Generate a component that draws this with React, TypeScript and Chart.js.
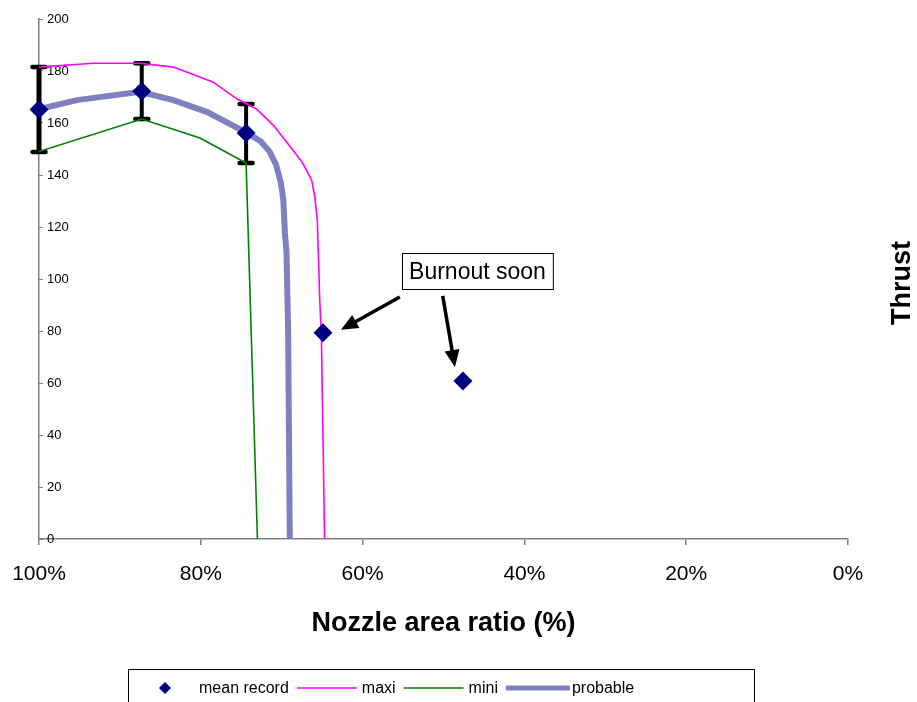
import React, { useEffect, useRef } from "react";
import { Chart, registerables } from "chart.js";

Chart.register(...registerables);

const FONT = '"Liberation Sans", Arial, Helvetica, sans-serif';

// ---- data ----
const seriesNames = ["mean record", "maxi", "mini", "probable"];

const meanX = [100, 87.3, 74.4, 64.9, 47.6];
const meanY = [165.2, 172.2, 156.2, 79.3, 60.8];
const errHigh = [181.5, 183, 167.3, null, null];
const errLow = [148.8, 161.5, 144.6, null, null];

const maxiX = [100, 93.3, 87.5, 83.4, 78.5, 75.5, 73.1, 71.0, 69.3, 67.4, 66.3, 65.9, 65.6, 65.3, 65.1, 64.9, 64.7];
const maxiY = [181.5, 183, 183, 181.5, 175.8, 169.2, 165.4, 159, 152.3, 144.6, 138, 131.5, 122.7, 92, 79, 40, 0];

const miniX = [100, 87.3, 80.1, 74.4, 73.0];
const miniY = [149, 161.5, 154.2, 144.6, 0];

const probX = [100, 95.3, 87.5, 83.4, 79.2, 74.3, 72.6, 71.5, 70.7, 70.1, 69.8, 69.6, 69.4, 69.2, 69.0];
const probY = [165.4, 168.8, 172, 168.8, 164.2, 156.2, 153, 149, 144, 137, 130.4, 117.7, 110, 79, 0];

const xTickStep = 20;
const yTickStep = 20;
const xTitle = "Nozzle area ratio (%)";
const yTitle = "Thrust";

const noteText = "Burnout soon";
const noteAt = [45.8, 103]; // box centre (x %, thrust)
const arrowFrom = [
  [55.4, 93.1],
  [50.1, 93.5],
];
const arrowTarget = [3, 4]; // indices of mean record points

const COLORS = {
  mean: "#000080",
  maxi: "#FF00FF",
  mini: "#008000",
  prob: "#8080C0",
};

const toXY = (xs: number[], ys: number[]) => xs.map((x, i) => ({ x, y: ys[i] }));

function line(ctx: CanvasRenderingContext2D, x1: number, y1: number, x2: number, y2: number) {
  ctx.beginPath();
  ctx.moveTo(x1, y1);
  ctx.lineTo(x2, y2);
  ctx.stroke();
}

const errorBarPlugin = {
  id: "errorBars",
  beforeDatasetsDraw(chart: any) {
    const { ctx, scales } = chart;
    const x = scales.x;
    const y = scales.y;
    ctx.save();
    ctx.strokeStyle = "#000";
    meanX.forEach((v, i) => {
      const hi = errHigh[i];
      const lo = errLow[i];
      if (hi == null || lo == null) return;
      const px = x.getPixelForValue(v);
      const pt = y.getPixelForValue(hi);
      const pb = y.getPixelForValue(lo);
      ctx.lineWidth = i === 0 ? 5 : 4;
      ctx.lineCap = "butt";
      line(ctx, px, pt, px, pb);
      ctx.lineWidth = 4.5;
      ctx.lineCap = "round";
      line(ctx, px - 6.5, pt, px + 6.5, pt);
      line(ctx, px - 6.5, pb, px + 6.5, pb);
    });
    ctx.restore();
  },
};

function arrow(ctx: CanvasRenderingContext2D, fx: number, fy: number, tx: number, ty: number) {
  const dx = tx - fx;
  const dy = ty - fy;
  const len = Math.hypot(dx, dy);
  const ux = dx / len;
  const uy = dy / len;
  const head = 17;
  const hw = 7.5;
  const bx = tx - ux * head;
  const by = ty - uy * head;
  ctx.lineWidth = 3.5;
  ctx.lineCap = "butt";
  line(ctx, fx, fy, bx + ux * 2, by + uy * 2);
  ctx.beginPath();
  ctx.moveTo(tx, ty);
  ctx.lineTo(bx - uy * hw, by + ux * hw);
  ctx.lineTo(bx + uy * hw, by - ux * hw);
  ctx.closePath();
  ctx.fill();
}

const annotationPlugin = {
  id: "annotation",
  afterDatasetsDraw(chart: any) {
    const { ctx, scales } = chart;
    const x = scales.x;
    const y = scales.y;
    ctx.save();
    ctx.font = `23px ${FONT}`;
    const cx = x.getPixelForValue(noteAt[0]);
    const cy = y.getPixelForValue(noteAt[1]);
    const w = ctx.measureText(noteText).width + 14;
    const h = 36;
    const left = Math.round(cx - w / 2) + 0.5;
    const top = Math.round(cy - h / 2) + 0.5;
    ctx.fillStyle = "#fff";
    ctx.fillRect(left, top, w, h);
    ctx.strokeStyle = "#000";
    ctx.lineWidth = 1;
    ctx.strokeRect(left, top, w, h);
    ctx.fillStyle = "#000";
    ctx.textAlign = "center";
    ctx.textBaseline = "middle";
    ctx.fillText(noteText, cx, cy + 1);

    const tipOffsets = [
      [18, -3],
      [-8, -14],
    ];
    arrowFrom.forEach((f, i) => {
      const idx = arrowTarget[i];
      const fx = x.getPixelForValue(f[0]);
      const fy = y.getPixelForValue(f[1]);
      const tx = x.getPixelForValue(meanX[idx]) + tipOffsets[i][0];
      const ty = y.getPixelForValue(meanY[idx]) + tipOffsets[i][1];
      arrow(ctx, fx, fy, tx, ty);
    });
    ctx.restore();
  },
};

const extrasPlugin = {
  id: "extras",
  afterDraw(chart: any) {
    const { ctx, chartArea } = chart;
    ctx.save();
    // right-hand vertical title
    ctx.font = `bold 27px ${FONT}`;
    ctx.fillStyle = "#000";
    ctx.textAlign = "center";
    ctx.textBaseline = "middle";
    ctx.translate(903, (chartArea.top + chartArea.bottom) / 2 + 4);
    ctx.rotate(-Math.PI / 2);
    ctx.fillText(yTitle, 0, 0);
    ctx.restore();

    // legend
    ctx.save();
    ctx.strokeStyle = "#000";
    ctx.lineWidth = 1;
    ctx.strokeRect(128.5, 669.5, 626, 45);
    ctx.font = `16px ${FONT}`;
    ctx.textBaseline = "middle";
    ctx.textAlign = "left";
    const ly = 688;
    const ds = chart.data.datasets;
    // mean record marker
    ctx.fillStyle = ds[0].backgroundColor;
    ctx.beginPath();
    ctx.moveTo(165, ly - 6);
    ctx.lineTo(171, ly);
    ctx.lineTo(165, ly + 6);
    ctx.lineTo(159, ly);
    ctx.closePath();
    ctx.fill();
    ctx.fillStyle = "#000";
    let cur = 199;
    ctx.fillText(ds[0].label, cur, ly + 1);
    cur += ctx.measureText(ds[0].label).width + 8;
    for (let i = 1; i < ds.length; i++) {
      const len = i === 3 ? 64 : 60;
      ctx.strokeStyle = ds[i].borderColor;
      ctx.lineWidth = i === 3 ? 5 : 1.5;
      ctx.lineCap = "butt";
      line(ctx, cur, ly, cur + len, ly);
      cur += len + (i === 3 ? 2 : 5);
      ctx.fillStyle = "#000";
      ctx.fillText(ds[i].label, cur, ly + 1);
      cur += ctx.measureText(ds[i].label).width + 8;
    }
    ctx.restore();
  },
};

export default function App() {
  const ref = useRef<HTMLCanvasElement | null>(null);

  useEffect(() => {
    if (!ref.current) return;
    const chart = new Chart(ref.current, {
      type: "scatter",
      data: {
        datasets: [
          {
            label: seriesNames[0],
            data: toXY(meanX, meanY),
            showLine: false,
            pointStyle: "rectRot",
            pointRadius: 9.5,
            backgroundColor: COLORS.mean,
            borderColor: COLORS.mean,
            borderWidth: 0,
            clip: false,
          },
          {
            label: seriesNames[1],
            data: toXY(maxiX, maxiY),
            showLine: true,
            pointRadius: 0,
            borderColor: COLORS.maxi,
            backgroundColor: COLORS.maxi,
            borderWidth: 1.6,
            tension: 0,
          },
          {
            label: seriesNames[2],
            data: toXY(miniX, miniY),
            showLine: true,
            pointRadius: 0,
            borderColor: COLORS.mini,
            backgroundColor: COLORS.mini,
            borderWidth: 1.6,
            tension: 0,
          },
          {
            label: seriesNames[3],
            data: toXY(probX, probY),
            showLine: true,
            pointRadius: 0,
            borderColor: COLORS.prob,
            backgroundColor: COLORS.prob,
            borderWidth: 6,
            tension: 0,
          },
        ],
      } as any,
      options: {
        responsive: false,
        animation: false,
        events: [],
        layout: { padding: { left: 0, right: 69, top: 19, bottom: 0 } },
        plugins: {
          legend: { display: false },
          tooltip: { enabled: false },
        },
        scales: {
          x: {
            type: "linear",
            reverse: true,
            min: 0,
            max: 100,
            ticks: {
              stepSize: xTickStep,
              callback: (v: any) => `${v}%`,
              font: { family: FONT, size: 21 },
              color: "#000",
              padding: 17,
              maxRotation: 0,
              autoSkip: false,
            },
            grid: { drawOnChartArea: false, tickLength: 6, color: "#808080", lineWidth: 1.5 },
            border: { color: "#808080", width: 1.5 },
            title: {
              display: true,
              text: xTitle,
              font: { family: FONT, size: 27, weight: "bold" },
              color: "#000",
              padding: { top: 0, bottom: 62 },
            },
            afterFit: (s: any) => {
              s.height = 163;
              s.paddingLeft = 0;
              s.paddingRight = 0;
            },
          },
          y: {
            type: "linear",
            min: 0,
            max: 200,
            ticks: {
              stepSize: yTickStep,
              mirror: true,
              padding: 8,
              font: { family: FONT, size: 13 },
              color: "#000",
            },
            grid: { drawOnChartArea: false, tickLength: -4, color: "#808080", lineWidth: 1 },
            border: { color: "#808080", width: 1.5 },
            afterFit: (s: any) => {
              s.width = 39;
              s.paddingTop = 0;
              s.paddingBottom = 0;
            },
          },
        },
      } as any,
      plugins: [errorBarPlugin, annotationPlugin, extrasPlugin],
    });
    return () => chart.destroy();
  }, []);

  return (
    <div style={{ position: "absolute", left: 0, top: 0, width: 917, height: 702, background: "#fff" }}>
      <canvas ref={ref} width={917} height={702} style={{ display: "block" }} />
    </div>
  );
}
